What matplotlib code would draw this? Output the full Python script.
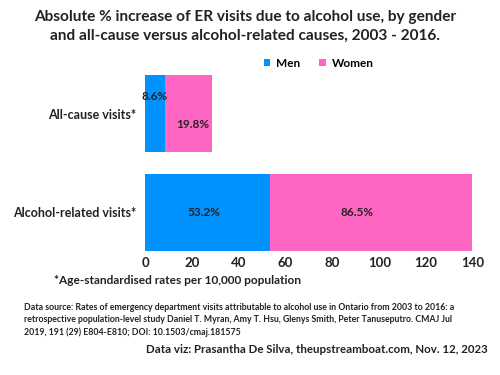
import matplotlib.pyplot as plt

plt.rcParams['font.family'] = ['Lato', 'DejaVu Sans']

categories = ["All-cause visits*", "Alcohol-related visits*"]
men = [8.6, 53.2]
women = [19.8, 86.5]
x_ticks = [0, 20, 40, 60, 80, 100, 120, 140]

blue = "#0093ff"
pink = "#ff66c4"
dark = "#222222"

fig = plt.figure(figsize=(5, 3.75), dpi=100)
ax = fig.add_axes([0.29, 0.3307, 0.656, 0.4693])

ypos = [0, 1]
ax.barh(ypos, men, height=0.78, color=blue, label="Men")
ax.barh(ypos, women, left=men, height=0.78, color=pink, label="Women")

# value labels (all-cause ones sit off-centre like the original)
ax.text(men[0] / 2, -0.17, f"{men[0]}%", ha="center", va="center", fontsize=8.5, fontweight="bold", color=dark)
ax.text(men[0] + women[0] * 0.6, 0.11, f"{women[0]}%", ha="center", va="center", fontsize=8.5, fontweight="bold", color=dark)
ax.text(men[1] / 2 - 1.5, 1.0, f"{men[1]}%", ha="center", va="center", fontsize=8.5, fontweight="bold", color=dark)
ax.text(men[1] + women[1] * 0.43, 1.0, f"{women[1]}%", ha="center", va="center", fontsize=8.5, fontweight="bold", color=dark)

ax.set_ylim(1.39, -0.39)
ax.set_xlim(0, 140)
ax.set_yticks(ypos)
ax.set_yticklabels(categories, fontsize=9, fontweight="bold", color=dark)
ax.set_xticks(x_ticks)
ax.set_xticklabels([str(t) for t in x_ticks], fontsize=9.5, fontweight="bold", color=dark)
ax.tick_params(length=0, pad=6)
ax.tick_params(axis="x", pad=4)
for s in ax.spines.values():
    s.set_visible(False)

ax.legend(loc="lower center", bbox_to_anchor=(0.53, 1.0), ncol=2, frameon=False,
          prop={"weight": "bold", "size": 8.5}, handlelength=0.55, handleheight=0.55,
          columnspacing=1.6, handletextpad=0.5, borderaxespad=0.15)

fig.text(0.49, 0.93, "Absolute % increase of ER visits due to alcohol use, by gender\nand all-cause versus alcohol-related causes, 2003 - 2016.",
         ha="center", va="center", fontsize=11.1, fontweight="bold", color=dark, linespacing=1.5)

fig.text(0.108, 0.253, "*Age-standardised rates per 10,000 population", fontsize=8.6, fontweight="bold", color=dark, va="center")

fig.text(0.048, 0.147, "Data source: Rates of emergency department visits attributable to alcohol use in Ontario from 2003 to 2016: a\n"
         "retrospective population-level study Daniel T. Myran, Amy T. Hsu, Glenys Smith, Peter Tanuseputro. CMAJ Jul\n"
         "2019, 191 (29) E804-E810; DOI: 10.1503/cmaj.181575",
         fontsize=6.3, fontweight="bold", color=dark, va="center", linespacing=1.45)

fig.text(0.976, 0.067, "Data viz: Prasantha De Silva, theupstreamboat.com, Nov. 12, 2023",
         ha="right", va="center", fontsize=8.3, fontweight="bold", color=dark)

fig.savefig("out.png", dpi=100)
